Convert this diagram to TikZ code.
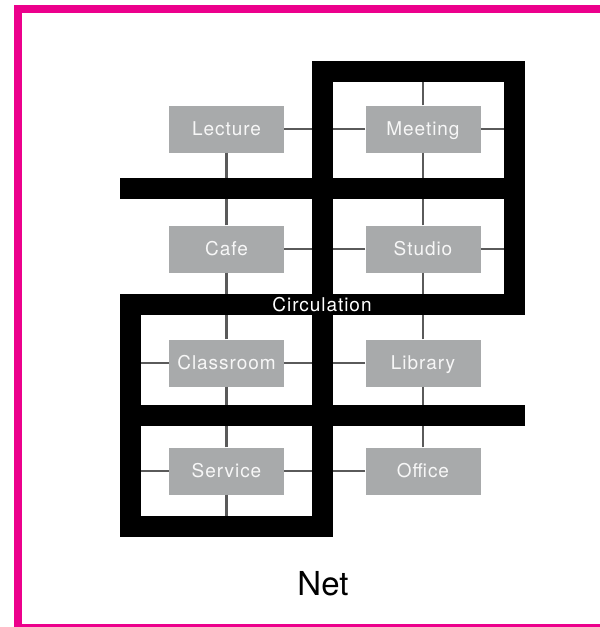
\documentclass[tikz,border=0pt]{standalone}
\usepackage{fontspec}
\setmainfont{TeX Gyre Heros}
\newfontfamily\roomfont[LetterSpace=5]{TeX Gyre Heros}
\definecolor{FigurePink}{HTML}{EC008C}
\definecolor{FigureGray}{HTML}{A8AAAB}
\definecolor{FigureLink}{HTML}{5A5A5A}
\tikzset{
  room/.style={fill=FigureGray,text=white!94!gray,minimum width=115pt,minimum height=47pt,text height=13.5pt,text depth=0pt,inner sep=0pt,font=\roomfont\fontsize{19}{21}\selectfont},
  wall/.style={line width=21pt,line cap=rect},
  link/.style={FigureLink,line width=2.6pt}
}

\begin{document}
\begin{tikzpicture}[x=1pt,y=-1pt]
  \clip (0,0) rectangle (600,627);
  \draw[FigurePink,line width=8pt] (18,9) rectangle (640,628);
  % wall axes
  \coordinate (x1) at (130,0); \coordinate (x2) at (322,0); \coordinate (x3) at (514.5,0);
  \coordinate (y1) at (0,71); \coordinate (y2) at (0,188); \coordinate (y3) at (0,304.5); \coordinate (y4) at (0,415.5); \coordinate (y5) at (0,526);
  % rooms
  \node[room] (lecture) at (226.5,129) {Lecture}; \node[room] (meeting) at (423,129) {Meeting};
  \node[room] (cafe) at (226.5,249) {Cafe}; \node[room] (studio) at (423,249) {Studio};
  \node[room] (classroom) at (226.5,363) {Classroom}; \node[room] (library) at (423,363) {Library};
  \node[room] (service) at (226.5,471) {Service}; \node[room] (office) at (423,471) {Office};
  % links to the walls
  \foreach \r/\a/\w in {lecture/east/x2,meeting/west/x2,meeting/east/x3,cafe/east/x2,studio/west/x2,studio/east/x3,classroom/west/x1,classroom/east/x2,library/west/x2,service/west/x1,service/east/x2,office/west/x2}
    \draw[link] (\r.\a) -- (\r.\a -| \w);
  \foreach \r/\a/\w in {lecture/south/y2,meeting/north/y1,meeting/south/y2,cafe/north/y2,cafe/south/y3,studio/north/y2,studio/south/y3,classroom/north/y3,classroom/south/y4,library/north/y3,library/south/y4,service/north/y4,service/south/y5,office/north/y4}
    \draw[link] (\r.\a) -- (\r.\a |- \w);
  % walls
  \foreach \a/\b/\c in {x2/x3/y1,x1/x3/y2,x1/x3/y3,x1/x3/y4,x1/x2/y5} \draw[wall] (\a |- \c) -- (\b |- \c);
  \foreach \a/\b/\c in {y3/y5/x1,y1/y5/x2,y1/y3/x3} \draw[wall] (\c |- \a) -- (\c |- \b);
  \node[text=white,anchor=base,inner sep=0pt,font=\roomfont\fontsize{19}{21}\selectfont] (circulation) at (322,311.5) {Circulation};
  \node[anchor=base,inner sep=0pt,font=\fontsize{33}{36}\selectfont] (net) at (323,595) {Net};
\end{tikzpicture}
\end{document}
